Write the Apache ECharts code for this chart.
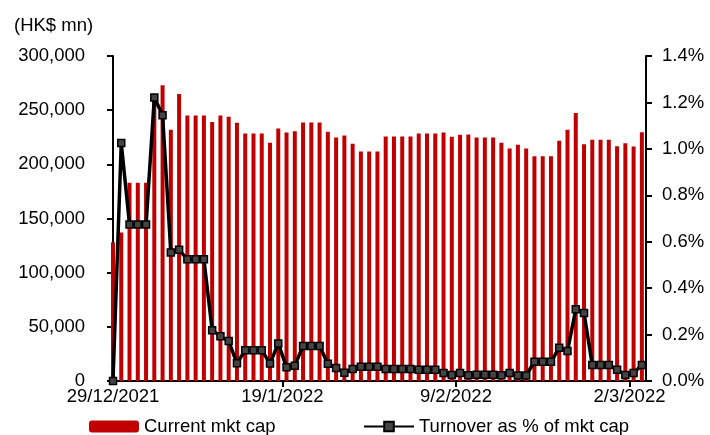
<!DOCTYPE html>
<html>
<head>
<meta charset="utf-8">
<script src="https://cdn.jsdelivr.net/npm/echarts@6/dist/echarts.min.js"></script>
<style>html,body{margin:0;padding:0;background:#fff}#c{width:710px;height:435px}</style>
</head>
<body>
<div id="c"></div>
<script>
const dates = [
 '29/12/2021','30/12/2021','31/12/2021',
 '1/1/2022','2/1/2022','3/1/2022','4/1/2022','5/1/2022','6/1/2022','7/1/2022','8/1/2022','9/1/2022','10/1/2022',
 '11/1/2022','12/1/2022','13/1/2022','14/1/2022','15/1/2022','16/1/2022','17/1/2022','18/1/2022','19/1/2022','20/1/2022',
 '21/1/2022','22/1/2022','23/1/2022','24/1/2022','25/1/2022','26/1/2022','27/1/2022','28/1/2022','29/1/2022','30/1/2022','31/1/2022',
 '1/2/2022','2/2/2022','3/2/2022','4/2/2022','5/2/2022','6/2/2022','7/2/2022','8/2/2022','9/2/2022','10/2/2022',
 '11/2/2022','12/2/2022','13/2/2022','14/2/2022','15/2/2022','16/2/2022','17/2/2022','18/2/2022','19/2/2022','20/2/2022',
 '21/2/2022','22/2/2022','23/2/2022','24/2/2022','25/2/2022','26/2/2022','27/2/2022','28/2/2022',
 '1/3/2022','2/3/2022','3/3/2022'
];
const mktCap = [
 128000,137000,183000,183000,183000,265000,273000,232000,265000,245000,245000,245000,239000,
 245000,244000,238500,228500,228500,228500,220000,233000,229500,230500,238700,238700,238700,
 230000,224800,226600,219000,211800,211800,211800,225700,225700,225700,225700,228500,228500,228500,
 229400,225400,227300,227600,224800,224800,224800,219900,214600,218000,214600,207500,207500,207500,
 221700,231900,247300,218600,222600,222600,222600,216700,219500,216500,229700
];
const turnoverPct = [
 0,1.025,0.674,0.674,0.674,1.221,1.145,0.554,0.565,0.524,0.524,0.524,0.219,
 0.193,0.172,0.076,0.133,0.133,0.133,0.075,0.162,0.059,0.066,0.151,0.151,0.151,
 0.074,0.056,0.036,0.052,0.061,0.061,0.061,0.052,0.052,0.052,0.052,0.048,0.048,0.048,
 0.034,0.026,0.035,0.025,0.027,0.027,0.027,0.025,0.034,0.024,0.024,0.083,0.083,0.083,
 0.143,0.129,0.309,0.293,0.069,0.069,0.069,0.048,0.026,0.034,0.069
];
const xTickLabels = ['29/12/2021','19/1/2022','9/2/2022','2/3/2022'];
const leftTicks = [0,50000,100000,150000,200000,250000,300000];
const rightTicks = ['0.0%','0.2%','0.4%','0.6%','0.8%','1.0%','1.2%','1.4%'];

const FONT = 'Liberation Sans, Arial, sans-serif';
const FS = 18.5;
// tick positions: boundary to the left of each labelled day (first one at origin)
const labelIdx = xTickLabels.map(l => dates.indexOf(l));
const labelPos = labelIdx.map(i => i === 0 ? 0 : i - 0.5);
const posToLabel = {};
labelPos.forEach((p, k) => posToLabel[p] = xTickLabels[k]);

const chart = echarts.init(document.getElementById('c'), null, {renderer: 'canvas'});
chart.setOption({
  animation: false,
  backgroundColor: '#fff',
  textStyle: {fontFamily: FONT},
  grid: {left: 113, right: 64, top: 56, bottom: 54, containLabel: false},
  graphic: [{type: 'text', left: 14, top: 16, style: {text: '(HK$ mn)', font: FS + 'px ' + FONT, fill: '#000'}}],
  legend: [
    {data: ['Current mkt cap'], left: 84, top: 412, itemWidth: 50, itemHeight: 12, itemGap: 5,
     textStyle: {fontSize: FS, color: '#000', fontFamily: FONT}},
    {data: ['Turnover as % of mkt cap'], left: 358, top: 412, itemWidth: 50, itemHeight: 12,
     textStyle: {fontSize: FS, color: '#000', fontFamily: FONT}}
  ],
  xAxis: {
    type: 'value', min: 0, max: dates.length - 0.5,
    axisLine: {show: true, lineStyle: {color: '#000', width: 2}},
    splitLine: {show: false},
    axisTick: {show: true, customValues: labelPos.slice(1), length: 6, lineStyle: {color: '#000', width: 2}},
    axisLabel: {customValues: labelPos, formatter: v => posToLabel[v] || '', fontSize: FS, color: '#000', margin: 6, fontFamily: FONT}
  },
  yAxis: [
    {type: 'value', min: leftTicks[0], max: leftTicks[leftTicks.length - 1], interval: leftTicks[1] - leftTicks[0],
     axisLine: {show: true, lineStyle: {color: '#000', width: 2}},
     axisTick: {show: true, length: 6, lineStyle: {color: '#000', width: 2}},
     splitLine: {show: false},
     axisLabel: {fontSize: FS, color: '#000', margin: 28, fontFamily: FONT,
       formatter: v => v.toLocaleString('en-US')}},
    {type: 'value', min: 0, max: 1.4, interval: 0.2, position: 'right',
     axisLine: {show: true, lineStyle: {color: '#000', width: 2}},
     axisTick: {show: true, length: 6, lineStyle: {color: '#000', width: 2}},
     splitLine: {show: false},
     axisLabel: {fontSize: FS, color: '#000', margin: 16, fontFamily: FONT,
       formatter: v => rightTicks[Math.round(v / 0.2)]}}
  ],
  series: [
    {name: 'Current mkt cap', type: 'bar', yAxisIndex: 0, barWidth: 4,
     itemStyle: {color: '#C00000'},
     data: mktCap.map((v, i) => [i, v])},
    {name: 'Turnover as % of mkt cap', type: 'line', yAxisIndex: 1, z: 5,
     symbol: 'rect', symbolSize: 7, showAllSymbol: true,
     lineStyle: {color: '#000', width: 3.5},
     itemStyle: {color: '#444', borderColor: '#000', borderWidth: 1.5},
     data: turnoverPct.map((v, i) => [i, v])}
  ]
});
</script>
</body>
</html>
